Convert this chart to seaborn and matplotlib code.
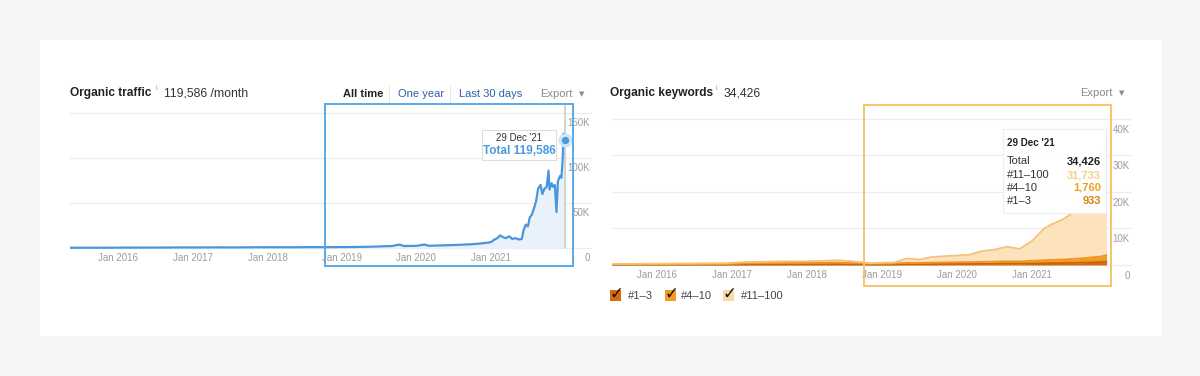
import numpy as np
import pandas as pd
import matplotlib
matplotlib.use("Agg")
import matplotlib.pyplot as plt
import matplotlib.dates as mdates
import matplotlib.transforms as mtransforms
from matplotlib.patches import Rectangle
import seaborn as sns

# ---------------- data ----------------
traffic_dates = [
    "2015-05-01", "2015-08-01", "2015-11-01", "2016-02-01", "2016-05-01", "2016-08-01",
    "2016-11-01", "2017-02-01", "2017-05-01", "2017-08-01", "2017-11-01", "2018-02-01",
    "2018-05-01", "2018-08-01", "2018-11-01",
    "2019-01-01", "2019-02-01", "2019-03-01", "2019-04-01", "2019-05-01", "2019-06-01",
    "2019-07-01", "2019-08-01", "2019-09-01", "2019-10-10", "2019-11-01", "2019-12-01",
    "2020-01-01", "2020-02-10", "2020-03-01", "2020-04-01", "2020-05-01", "2020-06-01",
    "2020-07-01", "2020-08-01", "2020-09-01", "2020-10-01", "2020-11-01", "2020-12-01",
    "2021-01-01", "2021-01-15", "2021-02-01", "2021-02-15", "2021-03-01", "2021-03-15",
    "2021-04-01", "2021-04-15", "2021-05-01", "2021-05-15", "2021-06-01", "2021-06-10",
    "2021-06-20", "2021-07-01", "2021-07-10", "2021-07-20", "2021-08-01", "2021-08-10",
    "2021-08-20", "2021-09-01", "2021-09-10", "2021-09-20", "2021-10-01", "2021-10-10",
    "2021-10-15", "2021-10-25", "2021-11-01", "2021-11-10", "2021-11-18", "2021-11-25",
    "2021-12-05", "2021-12-12", "2021-12-18", "2021-12-23", "2021-12-29",
]
traffic_values = [
    250, 300, 300, 450, 450, 500, 600, 600, 700, 650, 800, 850, 800, 950, 900,
    1000, 1050, 1100, 1200, 1300, 1500, 1700, 2000, 2100, 3800, 2200, 2300,
    2400, 3800, 2500, 2700, 2900, 3100, 3300, 3600, 3900, 4200, 4800, 5500,
    6500, 9000, 11000, 14000, 12000, 11000, 13000, 10000, 11000, 9500, 10000, 20000,
    26000, 24000, 34000, 37000, 45000, 52000, 66000, 70000, 60000, 66000, 68000, 86000,
    65000, 72000, 68000, 70000, 40000, 74000, 80000, 78000, 97000, 127000, 119586,
]
traffic_xticks = ["2016-01-01", "2017-01-01", "2018-01-01", "2019-01-01", "2020-01-01", "2021-01-01"]
traffic_xlabels = ["Jan 2016", "Jan 2017", "Jan 2018", "Jan 2019", "Jan 2020", "Jan 2021"]
traffic_yticks = [0, 50000, 100000, 150000]
traffic_ylabels = ["0", "50K", "100K", "150K"]

kw_dates = [
    "2015-06-01", "2015-09-01", "2015-12-01", "2016-03-01", "2016-06-01", "2016-09-01",
    "2016-12-01", "2017-03-01", "2017-06-01", "2017-09-01", "2017-12-01", "2018-03-01",
    "2018-06-01", "2018-09-01", "2018-11-01", "2019-01-01", "2019-03-01", "2019-05-01",
    "2019-07-01", "2019-09-01", "2019-11-01", "2020-01-01", "2020-03-01", "2020-05-01",
    "2020-07-01", "2020-09-01", "2020-11-01", "2021-01-01", "2021-03-01", "2021-04-01",
    "2021-06-01", "2021-08-01", "2021-09-01", "2021-10-01", "2021-11-01", "2021-12-05",
    "2021-12-15", "2021-12-29",
]
kw_top3 = [60, 60, 70, 70, 80, 90, 100, 150, 170, 180, 190, 200, 220, 180, 120, 140, 150, 200,
           200, 230, 250, 260, 270, 300, 320, 350, 340, 400, 450, 480, 520, 580, 620, 680,
           740, 800, 860, 933]
kw_4_10 = [90, 90, 100, 110, 120, 130, 150, 300, 330, 360, 380, 400, 430, 330, 220, 250, 270, 380,
           360, 420, 450, 480, 500, 560, 600, 650, 620, 750, 850, 900, 980, 1100, 1200, 1300,
           1420, 1550, 1650, 1760]
kw_11_100 = [150, 150, 180, 170, 200, 230, 250, 350, 400, 460, 430, 500, 650, 390, 160, 210, 280,
             1220, 940, 1550, 1700, 1860, 2030, 2940, 3280, 4000, 3440, 5450, 8700, 9620, 11000,
             13120, 14680, 17520, 20340, 21650, 25490, 31733]
kw_series = ["#1–3", "#4–10", "#11–100"]
kw_colors = ["#d7680b", "#f29c22", "#fde3bd"]
kw_box_colors = ["#d7680b", "#f29c22", "#fcd9a2"]
kw_xticks = ["2016-01-01", "2017-01-01", "2018-01-01", "2019-01-01", "2020-01-01", "2021-01-01"]
kw_xlabels = ["Jan 2016", "Jan 2017", "Jan 2018", "Jan 2019", "Jan 2020", "Jan 2021"]
kw_yticks = [0, 10000, 20000, 30000, 40000]
kw_ylabels = ["0", "10K", "20K", "30K", "40K"]

# ---------------- style ----------------
sns.set_theme(style="white")
plt.rcParams['font.family'] = ['Liberation Sans', 'DejaVu Sans']

W, H = 1200, 376
fig = plt.figure(figsize=(12, 3.76), dpi=100, facecolor="#f5f6f8")


def fx(x):
    return x / W


def fy(y):
    return 1 - y / H


def rect_px(x0, y0, x1, y1):
    return [fx(x0), fy(y1), (x1 - x0) / W, (y1 - y0) / H]


def fig_rect(x0, y0, x1, y1, **kw):
    r = Rectangle((fx(x0), fy(y1)), (x1 - x0) / W, (y1 - y0) / H,
                  transform=fig.transFigure, **kw)
    fig.patches.append(r)
    return r


# white card
fig_rect(40, 40, 1162, 336, facecolor="white", edgecolor="none", zorder=-5)

TICK_COL = "#9c9c9c"
GRID_COL = "#ececec"


def style_axes(ax, xticks, xlabels, yticks):
    ax.set_facecolor("none")
    for s in ax.spines.values():
        s.set_visible(False)
    ax.set_xlabel("")
    ax.set_ylabel("")
    ax.set_yticks(yticks)
    ax.yaxis.grid(True, color=GRID_COL, lw=0.9)
    ax.xaxis.grid(False)
    ax.tick_params(axis="y", labelleft=False, labelright=False, length=0)
    ax.set_xticks([mdates.date2num(pd.Timestamp(d)) for d in xticks])
    ax.set_xticklabels(xlabels, fontsize=7, color=TICK_COL)
    ax.tick_params(axis="x", length=0, pad=2.5)
    ax.set_axisbelow(True)


# ---------------- left: organic traffic ----------------
axL = fig.add_axes(rect_px(70, 105, 592, 250))
dfT = pd.DataFrame({"date": pd.to_datetime(traffic_dates), "value": traffic_values})
axL.fill_between(dfT["date"], 0, dfT["value"], color="#e9f2fb", lw=0, zorder=1)
sns.lineplot(data=dfT, x="date", y="value", ax=axL, color="#4a96dc", lw=1.6, zorder=3)
t21 = mdates.date2num(pd.Timestamp("2021-01-01"))
pxdayL = 74.5 / 365.25
axL.set_xlim(t21 - (491 - 70) / pxdayL, t21 + (592 - 491) / pxdayL)
uppL = 50000 / 45
axL.set_ylim(-(250 - 248) * uppL, (248 - 105) * uppL)
style_axes(axL, traffic_xticks, traffic_xlabels, traffic_yticks)
last_t = dfT["date"].iloc[-1]
axL.axvline(last_t, ymin=2 / 145, ymax=1, color="#d0d0d0", lw=1.3, zorder=2)
axL.scatter([last_t], [traffic_values[-1]], s=60, color="#4a9ae0", edgecolor="#cfe6fa",
            linewidth=2.4, zorder=6)
offL = mtransforms.ScaledTranslation(0, -10 / 100, fig.dpi_scale_trans)
for v, lab in zip(traffic_yticks, traffic_ylabels):
    axL.text((590 - 70) / 522, v, lab, transform=axL.get_yaxis_transform() + offL,
             ha="right", va="center", fontsize=7, color=TICK_COL)

# ---------------- right: organic keywords ----------------
axR = fig.add_axes(rect_px(612, 112, 1132, 267))
dfK = pd.DataFrame({"date": pd.to_datetime(kw_dates), kw_series[0]: kw_top3,
                    kw_series[1]: kw_4_10, kw_series[2]: kw_11_100})
stack = dfK[kw_series].cumsum(axis=1)
axR.stackplot(dfK["date"], dfK[kw_series[0]], dfK[kw_series[1]], dfK[kw_series[2]],
              colors=[kw_colors[0], kw_colors[1], kw_colors[2]], lw=0, zorder=1)
line_cols = ["#c9640c", "#ef9420", "#f5c27a"]
for i, name in enumerate(kw_series):
    sns.lineplot(x=dfK["date"], y=stack[name], ax=axR, color=line_cols[i], lw=1.3, zorder=3)
t16 = mdates.date2num(pd.Timestamp("2016-01-01"))
pxdayR = 75 / 365.25
axR.set_xlim(t16 - (657 - 612) / pxdayR, t16 + (1132 - 657) / pxdayR)
uppR = 10000 / 36.6
axR.set_ylim(-(267 - 265) * uppR, (265 - 112) * uppR)
style_axes(axR, kw_xticks, kw_xlabels, kw_yticks)
offR = mtransforms.ScaledTranslation(0, -11 / 100, fig.dpi_scale_trans)
for v, lab in zip(kw_yticks, kw_ylabels):
    axR.text((1130 - 612) / 520, v, lab, transform=axR.get_yaxis_transform() + offR,
             ha="right", va="center", fontsize=7, color=TICK_COL)

# ---------------- headers ----------------
DARK = "#222222"
LINK = "#2f5fa8"
fig.text(fx(70), fy(93), "Organic traffic", fontsize=8.6, fontweight="bold", color=DARK, va="center")
fig.text(fx(155), fy(89), "i", fontsize=5, color="#999999", va="center")
fig.text(fx(164), fy(93), f"{traffic_values[-1]:,} /month", fontsize=8.8, color="#333333", va="center")
fig.text(fx(343), fy(94), "All time", fontsize=8, fontweight="bold", color=DARK, va="center")
fig.text(fx(398), fy(94), "One year", fontsize=8, color=LINK, va="center")
fig.text(fx(459), fy(94), "Last 30 days", fontsize=8, color=LINK, va="center")
for xs in (389, 450):
    fig.add_artist(plt.Line2D([fx(xs), fx(xs)], [fy(86), fy(102)], transform=fig.transFigure,
                              color="#e6e6e6", lw=0.8))
fig.text(fx(540), fy(94), "Export", fontsize=8, color="#8a8a8a", va="center")
fig.text(fx(582), fy(94), "▼", fontsize=5, color="#8a8a8a", va="center", ha="center",
         family=["DejaVu Sans"])

total_kw = kw_top3[-1] + kw_4_10[-1] + kw_11_100[-1]
fig.text(fx(610), fy(93), "Organic keywords", fontsize=8.6, fontweight="bold", color=DARK, va="center")
fig.text(fx(716), fy(89), "i", fontsize=5, color="#999999", va="center")
fig.text(fx(724), fy(93), f"{total_kw:,}", fontsize=8.8, color="#333333", va="center")
fig.text(fx(1080), fy(93), "Export", fontsize=8, color="#8a8a8a", va="center")
fig.text(fx(1122), fy(93), "▼", fontsize=5, color="#8a8a8a", va="center", ha="center",
         family=["DejaVu Sans"])

# ---------------- highlight boxes ----------------
fig_rect(325, 104, 573, 266, fill=False, edgecolor="#5aa9e6", lw=1.4, zorder=8)
fig_rect(864, 105, 1111, 286, fill=False, edgecolor="#f5c46f", lw=1.4, zorder=8)

# ---------------- tooltips ----------------
fig_rect(482, 130, 556, 160, facecolor="white", edgecolor="#dddddd", lw=0.8, zorder=9)
fig.text(fx(519), fy(138), "29 Dec '21", fontsize=7, color="#333333", ha="center", va="center", zorder=10)
fig.text(fx(519), fy(151), f"Total {traffic_values[-1]:,}", fontsize=8.5, fontweight="bold",
         color="#4a9ae0", ha="center", va="center", zorder=10)

fig_rect(1003, 129, 1106, 213, facecolor="white", edgecolor="#eeeeee", lw=0.8, alpha=0.97, zorder=9)
fig.text(fx(1007), fy(143), "29 Dec '21", fontsize=7, fontweight="bold", color=DARK, va="center", zorder=10)
rows = [("Total", f"{total_kw:,}", DARK),
        (kw_series[2], f"{kw_11_100[-1]:,}", "#f8cd8c"),
        (kw_series[1], f"{kw_4_10[-1]:,}", "#efa020"),
        (kw_series[0], f"{kw_top3[-1]:,}", "#d6840f")]
for (lab, val, col), yy in zip(rows, [161, 175, 188, 201]):
    fig.text(fx(1007), fy(yy), lab, fontsize=8, color="#333333", va="center", zorder=10)
    fig.text(fx(1101), fy(yy), val, fontsize=8, fontweight="bold", color=col, ha="right",
             va="center", zorder=10)

# ---------------- legend (checkboxes) ----------------
for x0, tx, lab, col in zip([610, 665, 723], [628, 681, 741], kw_series, kw_box_colors):
    fig_rect(x0, 290, x0 + 11, 301, facecolor=col, edgecolor="none", zorder=9)
    fig.text(fx(x0 + 6.5), fy(293.5), "✓", fontsize=12, fontweight="bold", color="#111111",
             ha="center", va="center", family=["DejaVu Sans"], zorder=10)
    fig.text(fx(tx), fy(296), lab, fontsize=8, color="#444444", va="center", zorder=10)

fig.savefig("out.png", dpi=100, facecolor=fig.get_facecolor())
